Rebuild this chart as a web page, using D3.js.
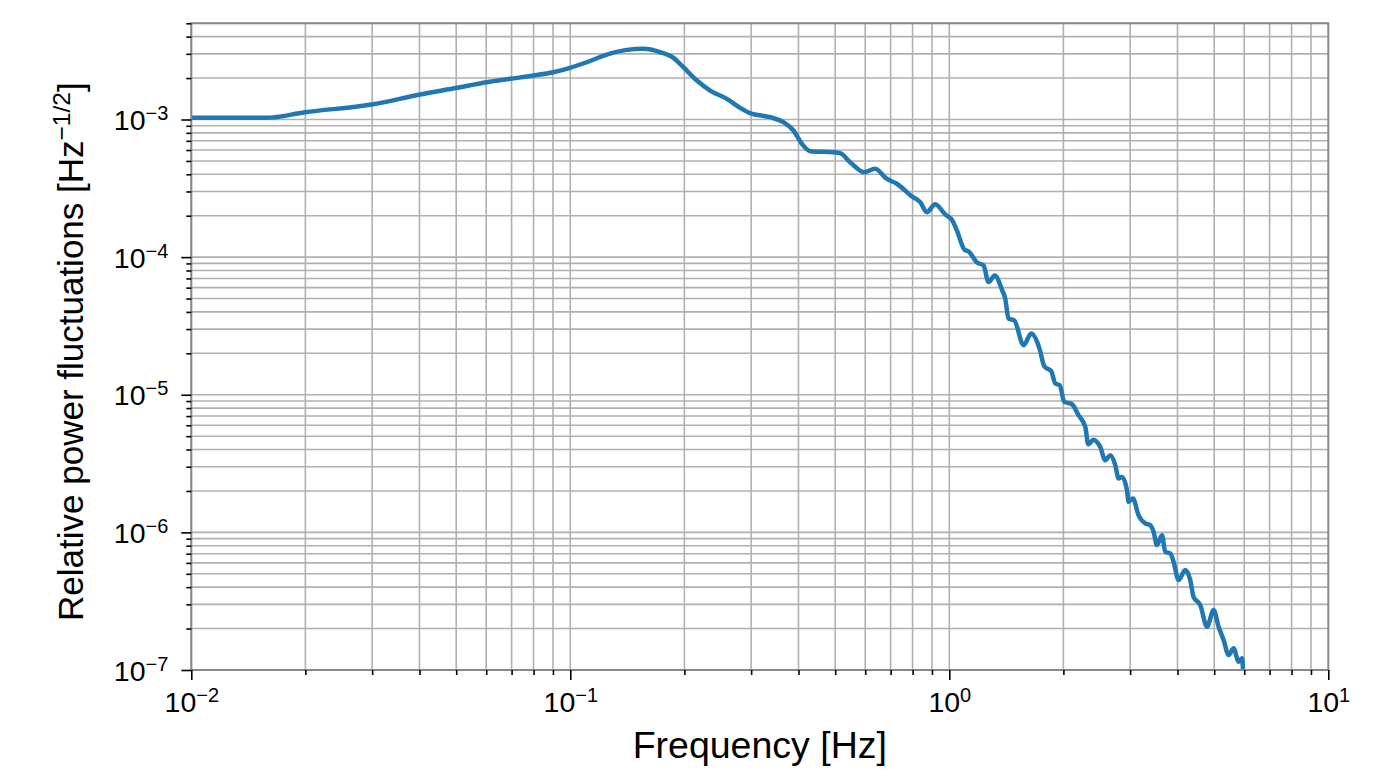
<!DOCTYPE html>
<html>
<head>
<meta charset="utf-8">
<script src="https://cdn.jsdelivr.net/npm/d3@7"></script>
<style>
  html, body { margin: 0; padding: 0; background: #fff; }
  svg { display: block; }
  text { font-family: "Liberation Sans", Arial, Helvetica, sans-serif; fill: #000; }
</style>
</head>
<body>
<svg id="chart" width="1387" height="781"></svg>
<script>
// ---- data ----
const freq = [
  0.01, 0.01581, 0.01995, 0.02993, 0.04015, 0.0502, 0.0602, 0.0694, 0.0799, 0.0902,
  0.0999, 0.1105, 0.1248, 0.1410, 0.1559, 0.1726, 0.1871, 0.1988, 0.2158, 0.2339,
  0.2588, 0.2806, 0.2982, 0.3367, 0.3650, 0.3880, 0.4083, 0.4294, 0.4948, 0.5153,
  0.5475, 0.5962, 0.6373, 0.6817, 0.7272, 0.7937, 0.8380, 0.8728, 0.9180, 0.9754,
  1.018, 1.047, 1.095, 1.128, 1.182, 1.231, 1.269, 1.318, 1.379, 1.405,
  1.433, 1.484, 1.570, 1.645, 1.730, 1.781, 1.858, 1.904, 1.956, 2.011,
  2.107, 2.193, 2.285, 2.326, 2.402, 2.452, 2.502, 2.579, 2.659, 2.741,
  2.797, 2.855, 2.943, 2.972, 3.052, 3.157, 3.289, 3.390, 3.459, 3.531,
  3.640, 3.714, 3.828, 3.906, 4.027, 4.194, 4.323, 4.410, 4.594, 4.786,
  4.982, 5.135, 5.294, 5.457, 5.625, 5.799, 5.919, 5.956
];
const power = [
  1.029e-3, 1.029e-3, 1.130e-3, 1.285e-3, 1.519e-3, 1.699e-3, 1.866e-3, 1.975e-3, 2.086e-3, 2.205e-3,
  2.373e-3, 2.606e-3, 2.963e-3, 3.206e-3, 3.260e-3, 3.081e-3, 2.805e-3, 2.397e-3, 1.919e-3, 1.623e-3,
  1.413e-3, 1.216e-3, 1.111e-3, 1.039e-3, 9.559e-4, 8.32e-4, 6.664e-4, 5.887e-4, 5.789e-4, 5.693e-4,
  4.898e-4, 4.144e-4, 4.386e-4, 3.729e-4, 3.413e-4, 2.783e-4, 2.509e-4, 2.123e-4, 2.427e-4, 2.043e-4,
  1.848e-4, 1.563e-4, 1.138e-4, 1.092e-4, 9.16e-5, 8.71e-5, 6.59e-5, 7.35e-5, 5.74e-5, 4.99e-5,
  3.574e-5, 3.473e-5, 2.287e-5, 2.782e-5, 2.164e-5, 1.61e-5, 1.482e-5, 1.206e-5, 1.172e-5, 8.87e-6,
  8.53e-6, 7.10e-6, 5.84e-6, 4.37e-6, 4.71e-6, 4.54e-6, 4.18e-6, 3.345e-6, 3.637e-6, 3.077e-6,
  2.464e-6, 2.530e-6, 2.026e-6, 1.666e-6, 1.764e-6, 1.334e-6, 1.161e-6, 1.129e-6, 1.009e-6, 8.08e-7,
  9.55e-7, 7.22e-7, 7.03e-7, 6.11e-7, 4.50e-7, 5.32e-7, 4.50e-7, 3.40e-7, 2.963e-7, 2.062e-7,
  2.726e-7, 2.062e-7, 1.651e-7, 1.285e-7, 1.437e-7, 1.149e-7, 1.216e-7, 1.017e-7
];
const xDomain = [1e-2, 1e1];
const yDomain = [1e-7, 5e-3];
const xMajorTicks = [1e-2, 1e-1, 1e0, 1e1];
const xMajorExp = ["\u22122", "\u22121", "0", "1"];
const yMajorTicks = [1e-7, 1e-6, 1e-5, 1e-4, 1e-3];
const yMajorExp = ["\u22127", "\u22126", "\u22125", "\u22124", "\u22123"];
const xLabel = "Frequency [Hz]";
const yLabelMain = "Relative power fluctuations [Hz";
const yLabelSup = "\u22121/2";
const yLabelEnd = "]";

// ---- layout ----
const svg = d3.select("#chart");
const L = 191.3, R = 1328.3, T = 23.3, B = 670;

const x = d3.scaleLog().domain(xDomain).range([L, R]);
const y = d3.scaleLog().domain(yDomain).range([B, T]);

function minorTicks(domain) {
  const out = [];
  const lo = Math.floor(Math.log10(domain[0]));
  const hi = Math.ceil(Math.log10(domain[1]));
  for (let e = lo; e < hi; e++) {
    for (let m = 1; m <= 9; m++) {
      const v = m * Math.pow(10, e);
      if (v >= domain[0] * 0.9999 && v <= domain[1] * 1.0001) out.push(v);
    }
  }
  return out;
}
const xAll = minorTicks(xDomain);
const yAll = minorTicks(yDomain);
const xMinor = xAll.filter(v => !xMajorTicks.some(t => Math.abs(t - v) / t < 1e-6));
const yMinor = yAll.filter(v => !yMajorTicks.some(t => Math.abs(t - v) / t < 1e-6));

// grid
const grid = svg.append("g").attr("class", "grid");
grid.selectAll("line.gx").data(xAll).enter().append("line")
  .attr("x1", d => x(d)).attr("x2", d => x(d)).attr("y1", T).attr("y2", B)
  .attr("stroke", "#b0b0b0").attr("stroke-width", 1.6);
grid.selectAll("line.gy").data(yAll).enter().append("line")
  .attr("y1", d => y(d)).attr("y2", d => y(d)).attr("x1", L).attr("x2", R)
  .attr("stroke", "#b0b0b0").attr("stroke-width", 1.6);

// data line
const line = d3.line()
  .x((d, i) => x(freq[i]))
  .y((d, i) => y(power[i]))
  .curve(d3.curveMonotoneX);
svg.append("path")
  .datum(power)
  .attr("d", line)
  .attr("fill", "none")
  .attr("stroke", "#1f77b4")
  .attr("stroke-width", 4.5)
  .attr("stroke-linejoin", "round")
  .attr("stroke-linecap", "butt");

// spines
svg.append("rect")
  .attr("x", L).attr("y", T).attr("width", R - L).attr("height", B - T)
  .attr("fill", "none").attr("stroke", "#888").attr("stroke-width", 2);

// axes
const xAxisMajor = d3.axisBottom(x).tickValues(xMajorTicks).tickSize(10).tickFormat("");
const xAxisMinor = d3.axisBottom(x).tickValues(xMinor).tickSize(5).tickFormat("");
const yAxisMajor = d3.axisLeft(y).tickValues(yMajorTicks).tickSize(10).tickFormat("");
const yAxisMinor = d3.axisLeft(y).tickValues(yMinor).tickSize(5).tickFormat("");

function styleAxis(g) {
  g.select(".domain").remove();
  g.selectAll(".tick line").attr("stroke", "#000").attr("stroke-width", 1.6);
  g.selectAll(".tick text").remove();
}

const gxMaj = svg.append("g").attr("transform", `translate(0,${B})`).call(xAxisMajor).call(styleAxis);
svg.append("g").attr("transform", `translate(0,${B})`).call(xAxisMinor).call(styleAxis);
const gyMaj = svg.append("g").attr("transform", `translate(${L},0)`).call(yAxisMajor).call(styleAxis);
svg.append("g").attr("transform", `translate(${L},0)`).call(yAxisMinor).call(styleAxis);

// x tick labels with superscripts
gxMaj.selectAll(".tick").each(function(d, i) {
  const t = d3.select(this).append("text")
    .attr("y", 42).attr("text-anchor", "middle")
    .attr("font-size", 28.5).attr("fill", "#000");
  t.append("tspan").text("10");
  t.append("tspan").attr("dy", -10).attr("font-size", 20).text(xMajorExp[i]);
});
gyMaj.selectAll(".tick").each(function(d, i) {
  const t = d3.select(this).append("text")
    .attr("x", -23).attr("y", 10).attr("text-anchor", "end")
    .attr("font-size", 28.5).attr("fill", "#000");
  t.append("tspan").text("10");
  t.append("tspan").attr("dy", -10).attr("font-size", 20).text(yMajorExp[i]);
});

// axis labels
svg.append("text")
  .attr("x", (L + R) / 2).attr("y", 758)
  .attr("text-anchor", "middle").attr("font-size", 37.5)
  .text(xLabel);

const yl = svg.append("text")
  .attr("transform", `translate(83,${(T + B) / 2 + 5}) rotate(-90)`)
  .attr("text-anchor", "middle").attr("font-size", 35);
yl.append("tspan").text(yLabelMain);
yl.append("tspan").attr("dy", -13).attr("font-size", 24.5).text(yLabelSup);
yl.append("tspan").attr("dy", 13).text(yLabelEnd);
</script>
</body>
</html>
